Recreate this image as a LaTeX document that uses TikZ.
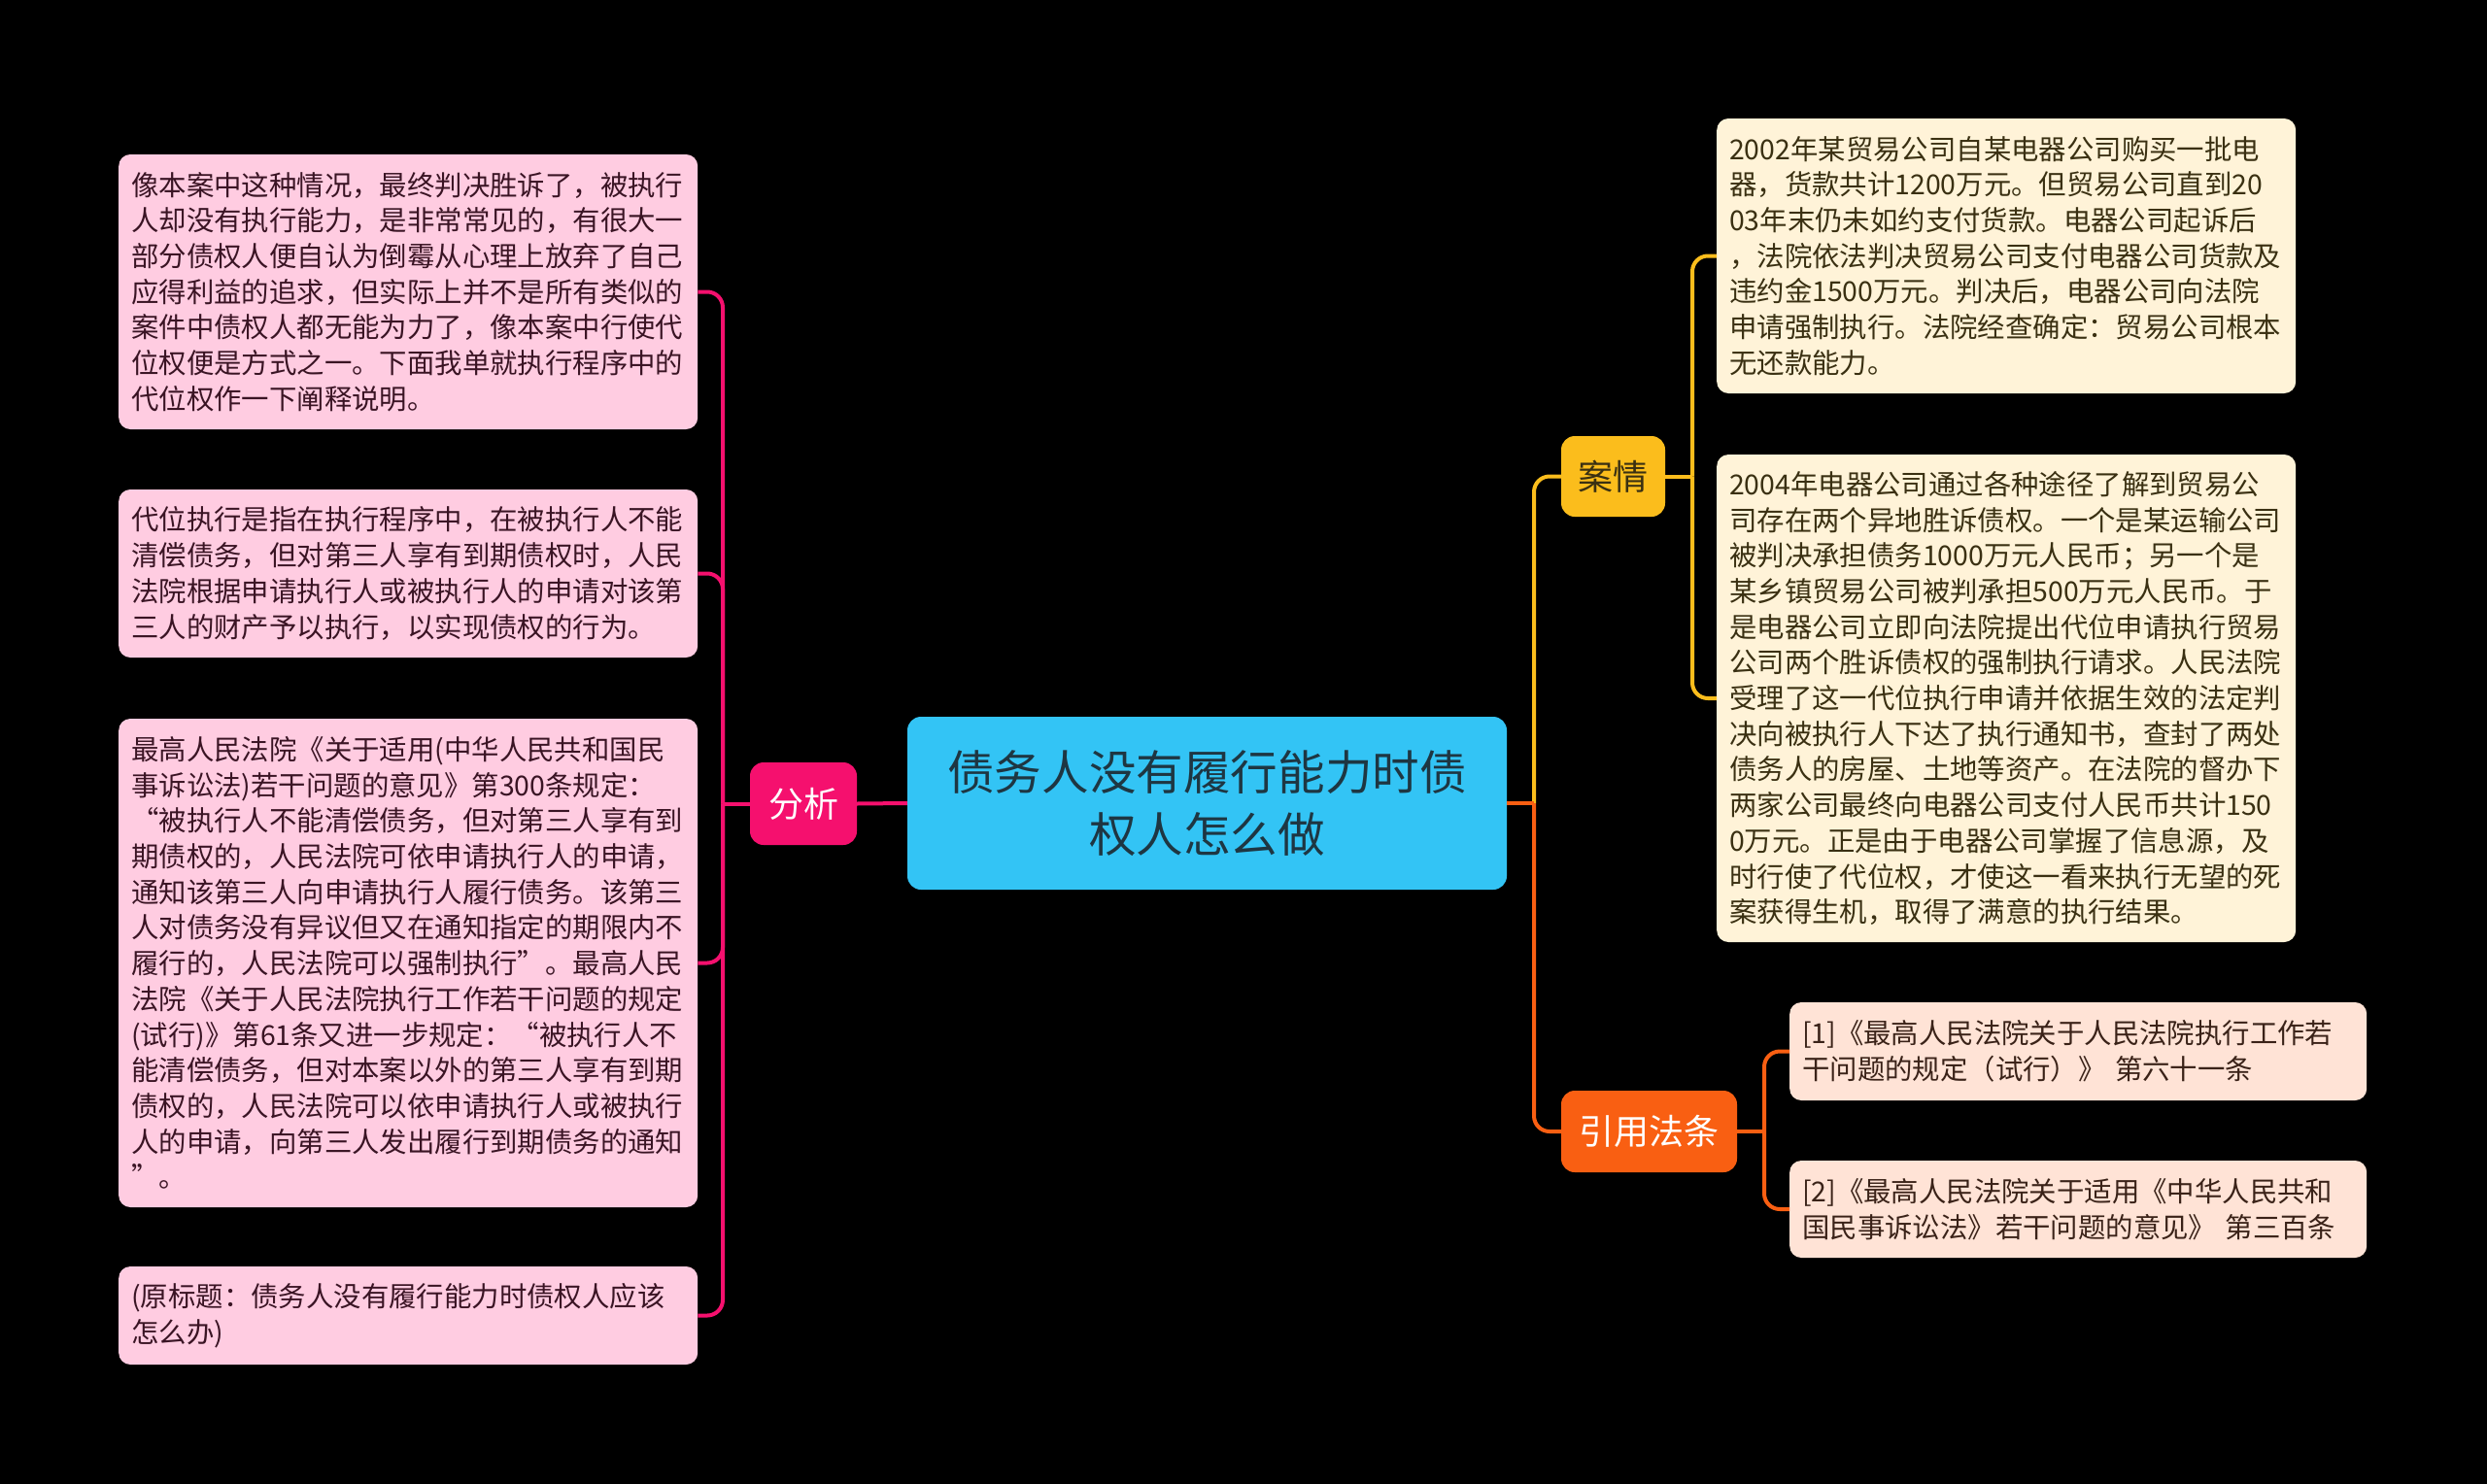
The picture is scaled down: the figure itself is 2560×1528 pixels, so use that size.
\documentclass[tikz,border=0pt]{standalone}
\usepackage{fontspec}
\setmainfont{Noto Sans CJK SC}
\definecolor{rootblue}{HTML}{33C4F5}
\definecolor{rootink}{HTML}{1E3642}
\definecolor{fxpink}{HTML}{F5106E}
\definecolor{fxleaf}{HTML}{FFCCE1}
\definecolor{fxink}{HTML}{3A1424}
\definecolor{ajamber}{HTML}{FBBD1C}
\definecolor{ajleaf}{HTML}{FFF3D8}
\definecolor{ajink}{HTML}{3A3012}
\definecolor{fforange}{HTML}{F95F12}
\definecolor{ffleaf}{HTML}{FFE3D6}
\definecolor{ffink}{HTML}{3A2218}
\tikzset{
  leaf/.style={rounded corners=12pt,anchor=west,inner xsep=13pt,inner ysep=0pt,
    text width=570pt,align=left,font=\fontsize{28.4}{36.7}\selectfont},
  topic/.style={rounded corners=14pt,inner sep=0pt,font=\fontsize{36}{40}\selectfont},
  link/.style={line width=4pt,rounded corners=16pt}
}
\begin{document}
\begin{tikzpicture}[x=1pt,y=-1pt]
	\fill[black] (0,0) rectangle (2560,1528);
	\useasboundingbox (0,0) rectangle (2560,1528);
	
	\node[rounded corners=14pt,fill=rootblue,text=rootink,minimum width=617pt,minimum height=178pt,align=center,font=\fontsize{48.6}{64}\selectfont] (root) at (1242.5,827) {债务人没有履行能力时债\\权人怎么做};
	
	\node[topic,fill=fxpink,text=white,minimum width=110pt,minimum height=85pt] (fenxi) at (827,827.5) {分析};
	\node[topic,fill=ajamber,text=ajink,minimum width=107pt,minimum height=83pt] (anqing) at (1660.5,490.5) {案情};
	\node[topic,fill=fforange,text=white,minimum width=181pt,minimum height=84pt] (fatiao) at (1697.5,1165) {引用法条};
	
	\node[leaf,fill=fxleaf,text=fxink,minimum height=283pt] (fx1) at (122,300.5) {像本案中这种情况，最终判决胜诉了，被执行\\人却没有执行能力，是非常常见的，有很大一\\部分债权人便自认为倒霉从心理上放弃了自己\\应得利益的追求，但实际上并不是所有类似的\\案件中债权人都无能为力了，像本案中行使代\\位权便是方式之一。下面我单就执行程序中的\\代位权作一下阐释说明。};
	\node[leaf,fill=fxleaf,text=fxink,minimum height=173pt] (fx2) at (122,590.5) {代位执行是指在执行程序中，在被执行人不能\\清偿债务，但对第三人享有到期债权时，人民\\法院根据申请执行人或被执行人的申请对该第\\三人的财产予以执行，以实现债权的行为。};
	\node[leaf,fill=fxleaf,text=fxink,minimum height=503pt] (fx3) at (122,991.5) {最高人民法院《关于适用(中华人民共和国民\\事诉讼法)若干问题的意见》第300条规定：\\“被执行人不能清偿债务，但对第三人享有到\\期债权的，人民法院可依申请执行人的申请，\\通知该第三人向申请执行人履行债务。该第三\\人对债务没有异议但又在通知指定的期限内不\\履行的，人民法院可以强制执行”。最高人民\\法院《关于人民法院执行工作若干问题的规定\\(试行)》第61条又进一步规定：“被执行人不\\能清偿债务，但对本案以外的第三人享有到期\\债权的，人民法院可以依申请执行人或被执行\\人的申请，向第三人发出履行到期债务的通知\\”。};
	\node[leaf,fill=fxleaf,text=fxink,minimum height=101pt] (fx4) at (122,1354.5) {(原标题：债务人没有履行能力时债权人应该\\怎么办)};
	
	\node[leaf,fill=ajleaf,text=ajink,minimum height=283pt] (aj1) at (1767,263.5) {2002年某贸易公司自某电器公司购买一批电\\器，货款共计1200万元。但贸易公司直到20\\03年末仍未如约支付货款。电器公司起诉后\\，法院依法判决贸易公司支付电器公司货款及\\违约金1500万元。判决后，电器公司向法院\\申请强制执行。法院经查确定：贸易公司根本\\无还款能力。};
	\node[leaf,fill=ajleaf,text=ajink,minimum height=502pt] (aj2) at (1767,719) {2004年电器公司通过各种途径了解到贸易公\\司存在两个异地胜诉债权。一个是某运输公司\\被判决承担债务1000万元人民币；另一个是\\某乡镇贸易公司被判承担500万元人民币。于\\是电器公司立即向法院提出代位申请执行贸易\\公司两个胜诉债权的强制执行请求。人民法院\\受理了这一代位执行申请并依据生效的法定判\\决向被执行人下达了执行通知书，查封了两处\\债务人的房屋、土地等资产。在法院的督办下\\两家公司最终向电器公司支付人民币共计150\\0万元。正是由于电器公司掌握了信息源，及\\时行使了代位权，才使这一看来执行无望的死\\案获得生机，取得了满意的执行结果。};
	
	\node[leaf,fill=ffleaf,text=ffink,text width=568pt,minimum height=101pt] (ff1) at (1842,1082.5) {[1]《最高人民法院关于人民法院执行工作若\\干问题的规定（试行）》 第六十一条};
	\node[leaf,fill=ffleaf,text=ffink,text width=568pt,minimum height=100pt] (ff2) at (1842,1245) {[2]《最高人民法院关于适用《中华人民共和\\国民事诉讼法》若干问题的意见》 第三百条};
	
	\draw[link,fxpink] (root.west)--(fenxi.east);
	\draw[link,fxpink] (fenxi.west)--(744,827.5);
	\draw[link,fxpink] (744,827.5)|-(fx1.east);
	\draw[link,fxpink] (744,827.5)|-(fx2.east);
	\draw[link,fxpink] (744,827.5)|-(fx3.east);
	\draw[link,fxpink] (744,827.5)|-(fx4.east);
	
	\draw[link,ajamber] (1579,827)|-(anqing.west);
	\draw[link,fforange] (root.east)--(1579,827);
	\draw[link,fforange] (1579,827)|-(fatiao.west);
	
	\draw[link,ajamber] (anqing.east)--(1742,490.5);
	\draw[link,ajamber] (1742,490.5)|-(aj1.west);
	\draw[link,ajamber] (1742,490.5)|-(aj2.west);
	
	\draw[link,fforange] (fatiao.east)--(1816,1165);
	\draw[link,fforange] (1816,1165)|-(ff1.west);
	\draw[link,fforange] (1816,1165)|-(ff2.west);
\end{tikzpicture}
\end{document}
